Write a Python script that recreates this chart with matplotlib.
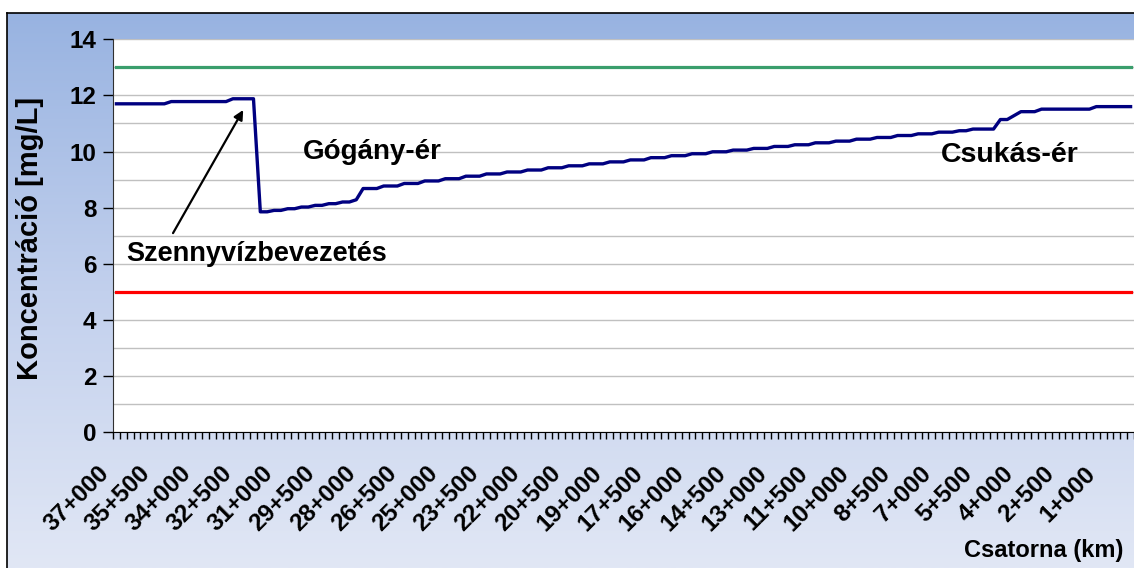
import numpy as np
import matplotlib.pyplot as plt
import matplotlib.transforms as mtransforms
from matplotlib.colors import LinearSegmentedColormap

plt.rcParams['font.family'] = ['Liberation Sans', 'DejaVu Sans']
plt.rcParams['font.weight'] = 'bold'

# =========================================================
# data
# =========================================================

tick_labels = [
    '37+000', '35+500', '34+000', '32+500', '31+000', '29+500', '28+000',
    '26+500', '25+000', '23+500', '22+000', '20+500', '19+000', '17+500',
    '16+000', '14+500', '13+000', '11+500', '10+000', '8+500', '7+000',
    '5+500', '4+000', '2+500', '1+000',
]
label_every = 6   # one label per 1.5 km, categories every 250 m

concentration = [
    11.70, 11.70, 11.70, 11.70, 11.70, 11.70, 11.70, 11.70,
    11.78, 11.78, 11.78, 11.78, 11.78, 11.78, 11.78, 11.78, 11.78,
    11.88, 11.88, 11.88, 11.88,
    7.85, 7.85, 7.90, 7.90, 7.96, 7.96, 8.02, 8.02, 8.08, 8.08,
    8.14, 8.14, 8.20, 8.20, 8.28,
    8.68, 8.68, 8.68, 8.77, 8.77, 8.77, 8.86, 8.86, 8.86,
    8.95, 8.95, 8.95, 9.03, 9.03, 9.03, 9.12, 9.12, 9.12,
    9.20, 9.20, 9.20, 9.27, 9.27, 9.27, 9.34, 9.34, 9.34,
    9.42, 9.42, 9.42, 9.49, 9.49, 9.49, 9.56, 9.56, 9.56,
    9.63, 9.63, 9.63, 9.70, 9.70, 9.70, 9.78, 9.78, 9.78,
    9.85, 9.85, 9.85, 9.92, 9.92, 9.92, 9.99, 9.99, 9.99,
    10.05, 10.05, 10.05, 10.11, 10.11, 10.11, 10.18, 10.18, 10.18,
    10.24, 10.24, 10.24, 10.31, 10.31, 10.31, 10.37, 10.37, 10.37,
    10.44, 10.44, 10.44, 10.50, 10.50, 10.50, 10.57, 10.57, 10.57,
    10.63, 10.63, 10.63, 10.69, 10.69, 10.69,
    10.74, 10.74, 10.80, 10.80, 10.80, 10.80,
    11.14, 11.14, 11.28, 11.42, 11.42, 11.42,
    11.51, 11.51, 11.51, 11.51, 11.51, 11.51, 11.51, 11.51,
    11.60, 11.60, 11.60, 11.60, 11.60, 11.60,
]

upper_limit = 13.0
lower_limit = 5.0

# =========================================================
# figure + gradient background
# =========================================================

W, H = 1134, 568
fig = plt.figure(figsize=(W / 100, H / 100), dpi=100)

bg = fig.add_axes([7 / W, 0, 1 - 7 / W, 1 - 13 / H], zorder=0)
bg_cmap = LinearSegmentedColormap.from_list('bg', ['#98b3e1', '#c2d0ed', '#e1e7f5'])
bg.imshow(np.linspace(0, 1, 256)[:, None], cmap=bg_cmap, aspect='auto',
          extent=[0, 1, 0, 1])
bg.set_xticks([])
bg.set_yticks([])
for side in ('right', 'bottom'):
    bg.spines[side].set_visible(False)
for side in ('left', 'top'):
    bg.spines[side].set_color('black')
    bg.spines[side].set_linewidth(1.2)

# =========================================================
# main plot
# =========================================================

ax = fig.add_axes([113 / W, 1 - 432 / H, 1 - 113 / W, (432 - 39.3) / H], zorder=1)
ax.set_facecolor('white')

x = np.arange(len(concentration))

ax.plot(x, [upper_limit] * len(x), color='#3a9e6c', lw=2.3, zorder=3)
ax.plot(x, [lower_limit] * len(x), color='#ff0000', lw=2.3, zorder=3)
ax.plot(x, concentration, color='#000080', lw=2.4, zorder=4)

ax.set_xlim(-0.5, len(x) - 0.5)
ax.set_ylim(0, 14)

# y axis
ax.set_yticks(np.arange(0, 15, 2))
ax.set_yticks(np.arange(1, 15, 2), minor=True)
ax.yaxis.grid(True, which='both', color='#c0c0c0', lw=1)
ax.set_axisbelow(True)
ax.tick_params(axis='y', which='major', length=7, width=1, pad=5, labelsize=17.5)
ax.tick_params(axis='y', which='minor', length=0)

# x axis: marks between categories, labels every 1.5 km
ax.set_xticks(np.arange(len(tick_labels)) * label_every)
ax.set_xticklabels(tick_labels)
ax.set_xticks(np.arange(-0.5, len(x), 1), minor=True)
ax.tick_params(axis='x', which='major', length=0, pad=0, labelsize=17.5)
ax.tick_params(axis='x', which='minor', length=5, width=1, color='black')

shift = mtransforms.ScaledTranslation(-11 / 100, -38 / 100, fig.dpi_scale_trans)
for lbl in ax.get_xticklabels():
    lbl.set_rotation(45)
    lbl.set_ha('right')
    lbl.set_va('center')
    lbl.set_rotation_mode('anchor')
    lbl.set_transform(lbl.get_transform() + shift)

for side in ('top', 'right'):
    ax.spines[side].set_visible(False)
ax.spines['left'].set_color('#303030')
ax.spines['bottom'].set_color('black')

ax.set_ylabel('Koncentráció [mg/L]', fontsize=21, fontweight='bold', va='center')
ax.yaxis.set_label_coords(-0.081, 0.494)

fig.text(964 / W, 1 - 557 / H, 'Csatorna (km)', fontsize=17, fontweight='bold',
         ha='left', va='baseline')

# annotations
ax.text(37.3, 9.98, 'Gógány-ér', fontsize=20, fontweight='bold',
        ha='center', va='center')
ax.text(130.4, 9.88, 'Csukás-ér', fontsize=20.5, fontweight='bold',
        ha='center', va='center')
ax.text(20.4, 6.35, 'Szennyvízbevezetés', fontsize=19.5, fontweight='bold',
        ha='center', va='center')
ax.annotate('', xy=(18.5, 11.48), xytext=(8.26, 7.09),
            arrowprops=dict(arrowstyle='-|>', color='black', lw=1.6,
                            mutation_scale=14, shrinkA=0, shrinkB=0))

fig.savefig('out.png', dpi=100, facecolor='white')
